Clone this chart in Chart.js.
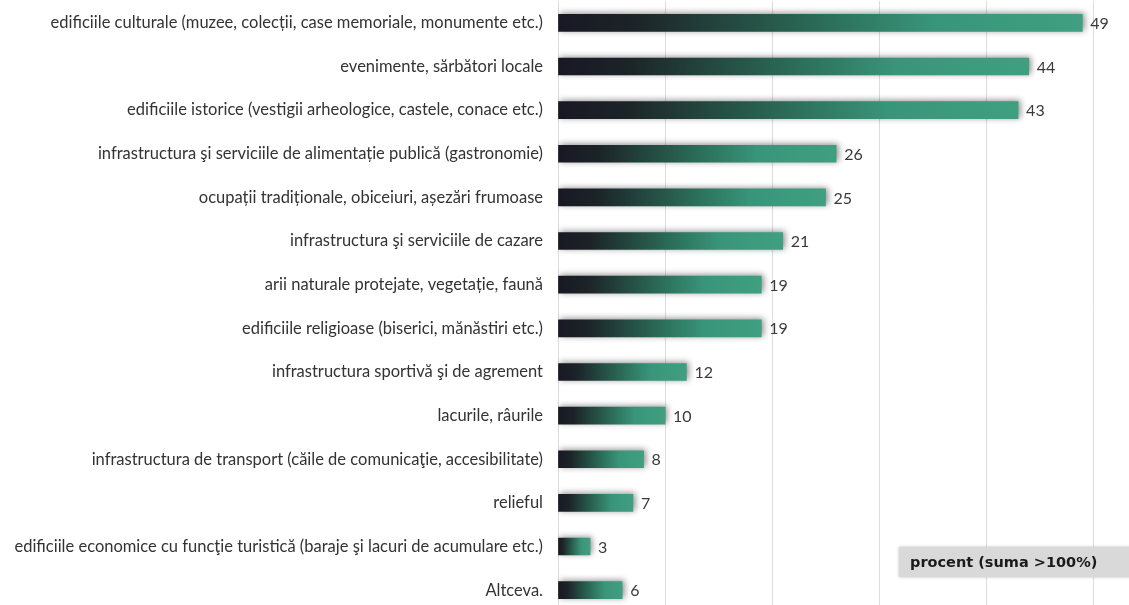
<!DOCTYPE html>
<html>
<head>
<meta charset="utf-8">
<script src="https://cdn.jsdelivr.net/npm/chart.js@4/dist/chart.umd.min.js"></script>
<style>
  html, body { margin: 0; padding: 0; background: #fff; overflow: hidden; }
  #wrap { position: relative; width: 1129px; height: 612px; }
</style>
</head>
<body>
<div id="wrap"><canvas id="chart"></canvas></div>
<script>
// categories, top to bottom
const categories = [
  'edificiile culturale (muzee, colecții, case memoriale, monumente etc.)',
  'evenimente, sărbători locale',
  'edificiile istorice (vestigii arheologice, castele, conace etc.)',
  'infrastructura şi serviciile de alimentație publică (gastronomie)',
  'ocupații tradiționale, obiceiuri, așezări frumoase',
  'infrastructura şi serviciile de cazare',
  'arii naturale protejate, vegetație, faună',
  'edificiile religioase (biserici, mănăstiri etc.)',
  'infrastructura sportivă şi de agrement',
  'lacurile, râurile',
  'infrastructura de transport (căile de comunicaţie, accesibilitate)',
  'relieful',
  'edificiile economice cu funcţie turistică (baraje şi lacuri de acumulare etc.)',
  'Altceva.'
]
const percent = [49, 44, 43, 26, 25, 21, 19, 19, 12, 10, 8, 7, 3, 6]
const legendText = 'procent (suma >100%)'

// each bar gets its own dark -> green gradient
function barGradient(context) {
  const chart = context.chart
  if (!chart.chartArea) return '#3a977a'
  const x = chart.scales.x
  const x0 = x.getPixelForValue(0)
  const x1 = x.getPixelForValue(context.raw)
  const g = chart.ctx.createLinearGradient(x0, 0, x1, 0)
  g.addColorStop(0, '#181824')
  g.addColorStop(0.15, '#1c2428')
  g.addColorStop(0.5, '#2b6c57')
  g.addColorStop(0.72, '#39957a')
  g.addColorStop(1, '#3f9f80')
  return g
}

const barShadow = {
  id: 'barShadow',
  beforeDatasetsDraw(chart) {
    const ctx = chart.ctx
    ctx.save()
    ctx.shadowColor = 'rgba(0,0,0,0.45)'
    ctx.shadowBlur = 6
    ctx.shadowOffsetX = 2
    ctx.shadowOffsetY = -1
  },
  afterDatasetsDraw(chart) {
    const ctx = chart.ctx
    ctx.restore()
    // value labels
    const meta = chart.getDatasetMeta(0)
    ctx.save()
    ctx.font = '16px Lato'
    ctx.fillStyle = '#3a3a3a'
    ctx.textBaseline = 'middle'
    ctx.textAlign = 'left'
    meta.data.forEach((bar, i) => {
      ctx.fillText(String(percent[i]), bar.x + 8, bar.y + 1)
    })
    ctx.restore()
  }
}

const legendBox = {
  id: 'legendBox',
  afterDraw(chart) {
    const ctx = chart.ctx
    ctx.save()
    ctx.shadowColor = 'rgba(0,0,0,0.25)'
    ctx.shadowBlur = 3
    ctx.fillStyle = '#d9d9d9'
    ctx.fillRect(899, 547, 240, 30)
    ctx.shadowColor = 'transparent'
    ctx.font = 'bold 14.5px "DejaVu Sans"'
    ctx.fillStyle = '#1a1a1a'
    ctx.textBaseline = 'middle'
    ctx.fillText(legendText, 910, 563)
    ctx.restore()
  }
}

new Chart(document.getElementById('chart'), {
  type: 'bar',
  data: {
    labels: categories,
    datasets: [{
      data: percent,
      backgroundColor: barGradient,
      barThickness: 17,
      borderWidth: 0
    }]
  },
  options: {
    indexAxis: 'y',
    responsive: true,
    maintainAspectRatio: false,
    animation: false,
    layout: { padding: { top: 1, right: 36, bottom: 0, left: 0 } },
    plugins: { legend: { display: false }, tooltip: { enabled: false } },
    scales: {
      x: {
        min: 0,
        max: 50,
        ticks: { display: false, stepSize: 10 },
        grid: { color: '#dcdcdc', lineWidth: 1, drawTicks: false },
        border: { display: false },
        afterFit(scale) { scale.height = 0 }
      },
      y: {
        ticks: {
          color: '#333333',
          font: { family: 'Lato', size: 16.5 },
          padding: 15,
          autoSkip: false
        },
        grid: { display: false, drawTicks: false },
        border: { display: true, color: '#dcdcdc' },
        afterFit(scale) {
          scale.width = 558
          scale.paddingTop = 0
          scale.paddingBottom = 0
        }
      }
    }
  },
  plugins: [barShadow, legendBox]
})
</script>
</body>
</html>
